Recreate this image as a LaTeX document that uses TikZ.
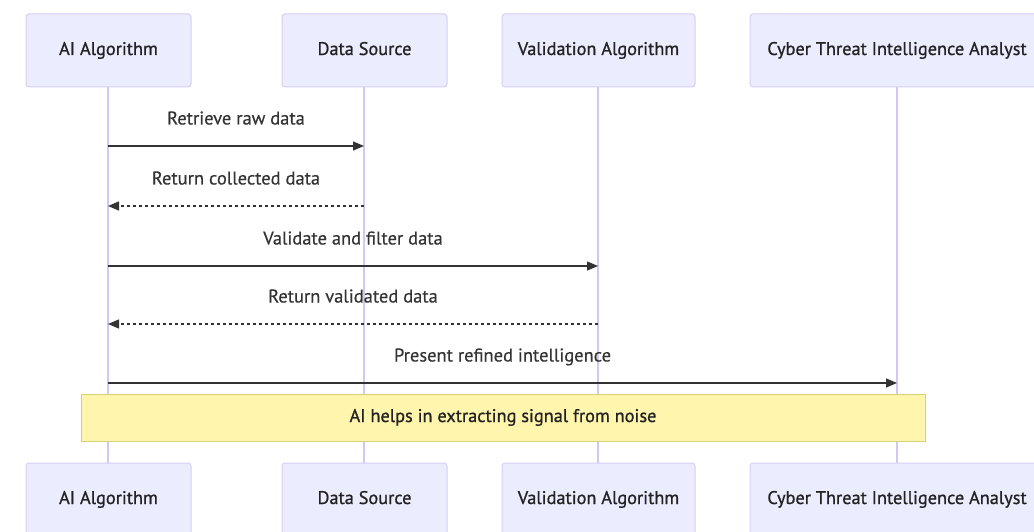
\documentclass[tikz,border=0pt]{standalone}
\usepackage{fontspec}
\setmainfont{PT Sans}
\newfontfamily\actfont[FakeBold=0.9]{PT Sans}
\newfontfamily\msgfont[FakeBold=0.4]{PT Sans}
\usetikzlibrary{arrows.meta}
\definecolor{actfill}{HTML}{ECECFF}
\definecolor{actdraw}{HTML}{D6CFF5}
\definecolor{lifeln}{HTML}{D2C8F2}
\definecolor{ink}{HTML}{333333}
\definecolor{darkink}{HTML}{222222}
\definecolor{notefill}{HTML}{FFF5AD}
\definecolor{notedraw}{HTML}{D6D27A}
\tikzset{
  actor/.style={draw=actdraw, fill=actfill, line width=1pt, rounded corners=3pt, minimum height=73pt, inner sep=0pt, text height=13pt, text depth=4pt, font=\actfont\fontsize{18.3}{21}\selectfont, text=darkink},
  lifeline/.style={draw=lifeln, line width=1.5pt},
  msg/.style={draw=ink, line width=1.4pt, -{Triangle[length=11pt,width=9pt]}},
  reply/.style={msg, dash pattern=on 3pt off 3pt},
  mlabel/.style={font=\msgfont\fontsize{18.5}{21}\selectfont, text=ink, inner sep=0pt, text height=13pt, text depth=4pt},
  notebox/.style={draw=notedraw, fill=notefill, line width=1pt, inner sep=0pt, text height=13pt, text depth=4pt, font=\actfont\fontsize{18.3}{21}\selectfont, text=darkink}
}
\begin{document}
\begin{tikzpicture}[x=1pt,y=-1pt]
\useasboundingbox (0,0) rectangle (1034,532);
% lifelines
\coordinate (l1t) at (108,87); \coordinate (l1b) at (108,463);
\coordinate (l2t) at (364,87); \coordinate (l2b) at (364,463);
\coordinate (l3t) at (598,87); \coordinate (l3b) at (598,463);
\coordinate (l4t) at (897,87); \coordinate (l4b) at (897,463);
\draw[lifeline] (l1t) -- (l1b);
\draw[lifeline] (l2t) -- (l2b);
\draw[lifeline] (l3t) -- (l3b);
\draw[lifeline] (l4t) -- (l4b);
% actors top
\node[actor, minimum width=165pt] (a1) at (108.5,50.5) {AI Algorithm};
\node[actor, minimum width=165pt] (a2) at (364.5,50.5) {Data Source};
\node[actor, minimum width=193pt] (a3) at (598.5,50.5) {Validation Algorithm};
\node[actor, minimum width=294pt] (a4) at (897,50.5) {Cyber Threat Intelligence Analyst};
% actors bottom
\node[actor, minimum width=165pt] (b1) at (108.5,499.5) {AI Algorithm};
\node[actor, minimum width=165pt] (b2) at (364.5,499.5) {Data Source};
\node[actor, minimum width=193pt] (b3) at (598.5,499.5) {Validation Algorithm};
\node[actor, minimum width=294pt] (b4) at (897,499.5) {Cyber Threat Intelligence Analyst};
% message coordinates
\coordinate (m1s) at (108,146); \coordinate (m1e) at (364,146);
\coordinate (m2s) at (364,206); \coordinate (m2e) at (108,206);
\coordinate (m3s) at (108,266); \coordinate (m3e) at (598,266);
\coordinate (m4s) at (598,324); \coordinate (m4e) at (108,324);
\coordinate (m5s) at (108,383); \coordinate (m5e) at (897,383);
\draw[msg] (m1s) -- (m1e);
\draw[reply] (m2s) -- (m2e);
\draw[msg] (m3s) -- (m3e);
\draw[reply] (m4s) -- (m4e);
\draw[msg] (m5s) -- (m5e);
\node[mlabel] (t1) at (236,120) {Retrieve raw data};
\node[mlabel] (t2) at (236,180) {Return collected data};
\node[mlabel] (t3) at (353,240) {Validate and filter data};
\node[mlabel] (t4) at (353,298) {Return validated data};
\node[mlabel] (t5) at (502.5,357) {Present refined intelligence};
% note
\node[notebox, minimum width=844pt, minimum height=47pt] (note) at (503,417.5) {AI helps in extracting signal from noise};
\end{tikzpicture}
\end{document}
